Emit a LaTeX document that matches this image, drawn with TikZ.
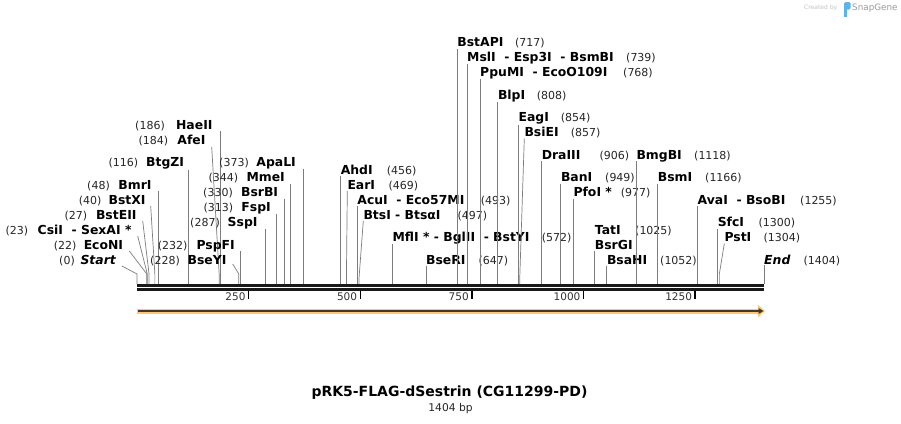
\documentclass[tikz,border=0pt]{standalone}
\usepackage{fontspec}
\setmainfont{DejaVu Sans}
\usepackage{tikz}
\usetikzlibrary{arrows.meta}
\definecolor{cutgray}{RGB}{125,125,125}
\definecolor{featorange}{RGB}{253,200,120}
\definecolor{featdark}{RGB}{70,55,40}
\definecolor{logoblue}{RGB}{90,180,235}
\definecolor{logogray}{RGB}{155,155,155}

\begin{document}
\begin{tikzpicture}[x=1pt, y=-1pt,
  enz/.style={inner sep=0pt, font=\fontsize{12.4}{14}\selectfont\bfseries},
  enzit/.style={inner sep=0pt, font=\fontsize{12.4}{14}\selectfont\bfseries\itshape},
  sitepos/.style={inner sep=0pt, text=black!85, font=\fontsize{11}{13}\selectfont},
  cut/.style={draw=cutgray, line width=0.7pt},
  mapline/.style={draw=black!90, line width=2.6pt},
  tick/.style={draw=black, line width=1.5pt},
  ticklab/.style={inner sep=0pt, text=black!80, font=\fontsize{10.5}{12}\selectfont}
]
  \fill[white] (0,0) rectangle (901,423);
  \useasboundingbox (0,0) rectangle (901,423);

  % cut sites on the map line (137 + 0.44658 px per bp)
  \foreach \p in {0,22,23,27,40,48,116,184,186,228,232,287,313,330,344,373,456,469,493,497,572,647,717,739,768,808,854,857,906,949,977,1025,1052,1118,1166,1255,1300,1304,1404}
    \coordinate (c\p) at ({137+0.44658*\p},284);

  % map line and ruler
  \coordinate (mapL) at (137,285.3);
  \coordinate (mapR) at (764,285.3);
  \draw[mapline] (mapL) -- (mapR);
  \draw[mapline] ([yshift=-3.9pt]mapL) -- ([yshift=-3.9pt]mapR);
  \foreach \t in {250,500,750,1000,1250} {
    \coordinate (t\t) at ({137+0.44658*\t},290.5);
    \draw[tick] (t\t) -- ++(0,8);
    \node[ticklab, anchor=base east] (tl\t) at ({134+0.44658*\t},300.8) {\t};
  }

  % feature arrow
  \coordinate (featL) at (137,311);
  \coordinate (featR) at (765,311);
  \draw[featorange, line width=5pt, -{Triangle[length=7pt,width=12pt]}] (featL) -- (featR);
  \draw[featdark, line width=1.3pt, -{Triangle[length=5pt,width=5.5pt]}, shorten >=1.5pt] ([xshift=1pt]featL) -- (featR);

  % left-hand labels
  \node[enzit, anchor=base east] (start) at (116,264) {Start};
  \node[sitepos, anchor=base east] (startpos) at (75,264) {(0)};
  \draw[cut] ([xshift=6pt,yshift=-2pt]start.base east) -- ([yshift=10pt]c0) -- (c0);
  \node[enz, anchor=base east] (ecoNI) at (123.3,249) {EcoNI};
  \node[sitepos, anchor=base east] (ecoNIpos) at (76.7,249) {(22)};
  \draw[cut] ([xshift=6pt,yshift=-2pt]ecoNI.base east) -- ([yshift=10pt]c22) -- (c22);
  \node[enz, anchor=base east] (csiI) at (131.7,234) {CsiI\ \ - SexAI *};
  \node[sitepos, anchor=base east] (csiIpos) at (28.3,234) {(23)};
  \draw[cut] ([xshift=6pt,yshift=-2pt]csiI.base east) -- ([yshift=10pt]c23) -- (c23);
  \node[enz, anchor=base east] (bstEII) at (136.7,219) {BstEII};
  \node[sitepos, anchor=base east] (bstEIIpos) at (87.3,219) {(27)};
  \draw[cut] ([xshift=6pt,yshift=-2pt]bstEII.base east) -- ([yshift=10pt]c27) -- (c27);
  \node[enz, anchor=base east] (bstXI) at (145.7,204) {BstXI};
  \node[sitepos, anchor=base east] (bstXIpos) at (101.7,204) {(40)};
  \draw[cut] ([xshift=5pt,yshift=-2pt]bstXI.base east) -- ([yshift=10pt]c40) -- (c40);
  \node[enz, anchor=base east] (bmrI) at (151.7,189) {BmrI};
  \node[sitepos, anchor=base east] (bmrIpos) at (110,189) {(48)};
  \draw[cut] ([yshift=-2pt]c48 |- bmrI.base east) -- (c48);
  \node[enz, anchor=base east] (btgZI) at (184.3,166.5) {BtgZI};
  \node[sitepos, anchor=base east] (btgZIpos) at (138.3,166.5) {(116)};
  \draw[cut] ([yshift=-3pt]c116 |- btgZI.base east) -- (c116);
  \node[enz, anchor=base east] (afeI) at (205.7,144) {AfeI};
  \node[sitepos, anchor=base east] (afeIpos) at (168.3,144) {(184)};
  \draw[cut] ([xshift=6pt,yshift=-3pt]afeI.base east) -- ([yshift=10pt]c184) -- (c184);
  \node[enz, anchor=base east] (haeII) at (212.7,129) {HaeII};
  \node[sitepos, anchor=base east] (haeIIpos) at (165,129) {(186)};
  \draw[cut] ([yshift=-2pt]c186 |- haeII.base east) -- (c186);
  \node[enz, anchor=base east] (bseYI) at (226.7,264) {BseYI};
  \node[sitepos, anchor=base east] (bseYIpos) at (180,264) {(228)};
  \draw[cut] ([xshift=6pt]bseYI.base east) -- ([yshift=10pt]c228) -- (c228);
  \node[enz, anchor=base east] (pspFI) at (235,249) {PspFI};
  \node[sitepos, anchor=base east] (pspFIpos) at (187.7,249) {(232)};
  \draw[cut] ([yshift=-2pt]c232 |- pspFI.base east) -- (c232);
  \node[enz, anchor=base east] (sspI) at (257.7,226.5) {SspI};
  \node[sitepos, anchor=base east] (sspIpos) at (220,226.5) {(287)};
  \draw[cut] ([yshift=-2pt]c287 |- sspI.base east) -- (c287);
  \node[enz, anchor=base east] (fspI) at (271,211.5) {FspI};
  \node[sitepos, anchor=base east] (fspIpos) at (233.3,211.5) {(313)};
  \draw[cut] ([yshift=-2pt]c313 |- fspI.base east) -- (c313);
  \node[enz, anchor=base east] (bsrBI) at (278.3,196.5) {BsrBI};
  \node[sitepos, anchor=base east] (bsrBIpos) at (233,196.5) {(330)};
  \draw[cut] ([yshift=-2pt]c330 |- bsrBI.base east) -- (c330);
  \node[enz, anchor=base east] (mmeI) at (285,181.5) {MmeI};
  \node[sitepos, anchor=base east] (mmeIpos) at (238.3,181.5) {(344)};
  \draw[cut] ([yshift=-2pt]c344 |- mmeI.base east) -- (c344);
  \node[enz, anchor=base east] (apaLI) at (296,166.5) {ApaLI};
  \node[sitepos, anchor=base east] (apaLIpos) at (249,166.5) {(373)};
  \draw[cut] ([yshift=-2pt]c373 |- apaLI.base east) -- (c373);

  % right-hand labels
  \node[enz, anchor=base west] (ahdI) at (340.6,174) {AhdI};
  \node[sitepos, anchor=base west] (ahdIpos) at (386.7,174) {(456)};
  \draw[cut] ([yshift=-2pt]c456 |- ahdI.base west) -- (c456);
  \node[enz, anchor=base west] (earI) at (347.3,189) {EarI};
  \node[sitepos, anchor=base west] (earIpos) at (388.3,189) {(469)};
  \draw[cut] ([yshift=-2pt]earI.base west) -- ([yshift=10pt]c469) -- (c469);
  \node[enz, anchor=base west] (acuI) at (357.2,204) {AcuI\ \ - Eco57MI};
  \node[sitepos, anchor=base west] (acuIpos) at (480.7,204) {(493)};
  \draw[cut] ([yshift=-2pt]c493 |- acuI.base west) -- (c493);
  \node[enz, anchor=base west] (btsI) at (363.3,219) {BtsI - BtsαI};
  \node[sitepos, anchor=base west] (btsIpos) at (457.3,219) {(497)};
  \draw[cut] ([yshift=-2pt]btsI.base west) -- ([yshift=5pt]c497) -- (c497);
  \node[enz, anchor=base west] (mflI) at (392.4,241.5) {MflI * - BglII\ \ - BstYI};
  \node[sitepos, anchor=base west] (mflIpos) at (541.7,241.5) {(572)};
  \draw[cut] ([yshift=-2pt]c572 |- mflI.base west) -- (c572);
  \node[enz, anchor=base west] (bseRI) at (425.9,264) {BseRI};
  \node[sitepos, anchor=base west] (bseRIpos) at (478.3,264) {(647)};
  \draw[cut] ([yshift=-2pt]c647 |- bseRI.base west) -- (c647);
  \node[enz, anchor=base west] (bstAPI) at (457.2,46.5) {BstAPI};
  \node[sitepos, anchor=base west] (bstAPIpos) at (515,46.5) {(717)};
  \draw[cut] ([yshift=-2pt]c717 |- bstAPI.base west) -- (c717);
  \node[enz, anchor=base west] (mslI) at (467,61.5) {MslI\ \ - Esp3I\ \ - BsmBI};
  \node[sitepos, anchor=base west] (mslIpos) at (626,61.5) {(739)};
  \draw[cut] ([yshift=-2pt]c739 |- mslI.base west) -- (c739);
  \node[enz, anchor=base west] (ppuMI) at (480,76.5) {PpuMI\ \ - EcoO109I};
  \node[sitepos, anchor=base west] (ppuMIpos) at (623,76.5) {(768)};
  \draw[cut] ([yshift=-2pt]c768 |- ppuMI.base west) -- (c768);
  \node[enz, anchor=base west] (blpI) at (497.8,99) {BlpI};
  \node[sitepos, anchor=base west] (blpIpos) at (536.7,99) {(808)};
  \draw[cut] ([yshift=-3pt]c808 |- blpI.base west) -- (c808);
  \node[enz, anchor=base west] (eagI) at (518.4,121.5) {EagI};
  \node[sitepos, anchor=base west] (eagIpos) at (560.7,121.5) {(854)};
  \draw[cut] ([yshift=-3pt]c854 |- eagI.base west) -- (c854);
  \node[enz, anchor=base west] (bsiEI) at (524.3,136.5) {BsiEI};
  \node[sitepos, anchor=base west] (bsiEIpos) at (570.7,136.5) {(857)};
  \draw[cut] ([yshift=-2pt]bsiEI.base west) -- ([yshift=5pt]c857) -- (c857);
  \node[enz, anchor=base west] (draIII) at (541.6,159) {DraIII};
  \node[sitepos, anchor=base west] (draIIIpos) at (599.3,159) {(906)};
  \draw[cut] ([yshift=-2pt]c906 |- draIII.base west) -- (c906);
  \node[enz, anchor=base west] (banI) at (560.8,181.5) {BanI};
  \node[sitepos, anchor=base west] (banIpos) at (605,181.5) {(949)};
  \draw[cut] ([yshift=-2pt]c949 |- banI.base west) -- (c949);
  \node[enz, anchor=base west] (pfoI) at (573.3,196.5) {PfoI *};
  \node[sitepos, anchor=base west] (pfoIpos) at (620.7,196.5) {(977)};
  \draw[cut] ([yshift=-2pt]c977 |- pfoI.base west) -- (c977);
  \node[enz, anchor=base west] (tatI) at (594.7,234) {TatI};
  \node[sitepos, anchor=base west] (tatIpos) at (635,234) {(1025)};
  \node[enz, anchor=base west] (bsrGI) at (594.7,249) {BsrGI};
  \draw[cut] ([yshift=-2pt]c1025 |- bsrGI.base west) -- (c1025);
  \node[enz, anchor=base west] (bsaHI) at (606.8,264) {BsaHI};
  \node[sitepos, anchor=base west] (bsaHIpos) at (660,264) {(1052)};
  \draw[cut] ([yshift=-2pt]c1052 |- bsaHI.base west) -- (c1052);
  \node[enz, anchor=base west] (bmgBI) at (636.3,159) {BmgBI};
  \node[sitepos, anchor=base west] (bmgBIpos) at (694,159) {(1118)};
  \draw[cut] ([yshift=-2pt]c1118 |- bmgBI.base west) -- (c1118);
  \node[enz, anchor=base west] (bsmI) at (657.7,181.5) {BsmI};
  \node[sitepos, anchor=base west] (bsmIpos) at (705,181.5) {(1166)};
  \draw[cut] ([yshift=-2pt]c1166 |- bsmI.base west) -- (c1166);
  \node[enz, anchor=base west] (avaI) at (697.5,204) {AvaI\ \ - BsoBI};
  \node[sitepos, anchor=base west] (avaIpos) at (800,204) {(1255)};
  \draw[cut] ([yshift=-2pt]c1255 |- avaI.base west) -- (c1255);
  \node[enz, anchor=base west] (sfcI) at (717.6,226.5) {SfcI};
  \node[sitepos, anchor=base west] (sfcIpos) at (758.3,226.5) {(1300)};
  \draw[cut] ([yshift=-2pt]c1300 |- sfcI.base west) -- (c1300);
  \node[enz, anchor=base west] (pstI) at (724.3,241.5) {PstI};
  \node[sitepos, anchor=base west] (pstIpos) at (763.3,241.5) {(1304)};
  \draw[cut] ([yshift=-2pt]pstI.base west) -- ([yshift=10pt]c1304) -- (c1304);
  \node[enzit, anchor=base west] (end) at (764,264) {End};
  \node[sitepos, anchor=base west] (endpos) at (803.3,264) {(1404)};
  \draw[cut] ([yshift=-1pt]c1404 |- end.base west) -- (c1404);

  % title
  \node[inner sep=0pt, anchor=base, font=\fontsize{14}{16}\selectfont\bfseries] (title) at (449.5,396) {pRK5-FLAG-dSestrin (CG11299-PD)};
  \node[inner sep=0pt, anchor=base, text=black!85, font=\fontsize{10.7}{12}\selectfont] (length) at (450.5,411) {1404 bp};

  % SnapGene mark
  \node[inner sep=0pt, anchor=base west, text=logogray!60, font=\fontsize{6}{7}\selectfont] (created) at (804,9.5) {Created by};
  \fill[logoblue, rounded corners=1.5pt] (844,2) rectangle (850.5,9.5);
  \fill[logoblue] (844,7) rectangle (846.8,16.5);
  \node[inner sep=0pt, anchor=base west, text=logogray, font=\fontsize{8.8}{10}\selectfont] (snapgene) at (852,10.5) {SnapGene};
\end{tikzpicture}
\end{document}
